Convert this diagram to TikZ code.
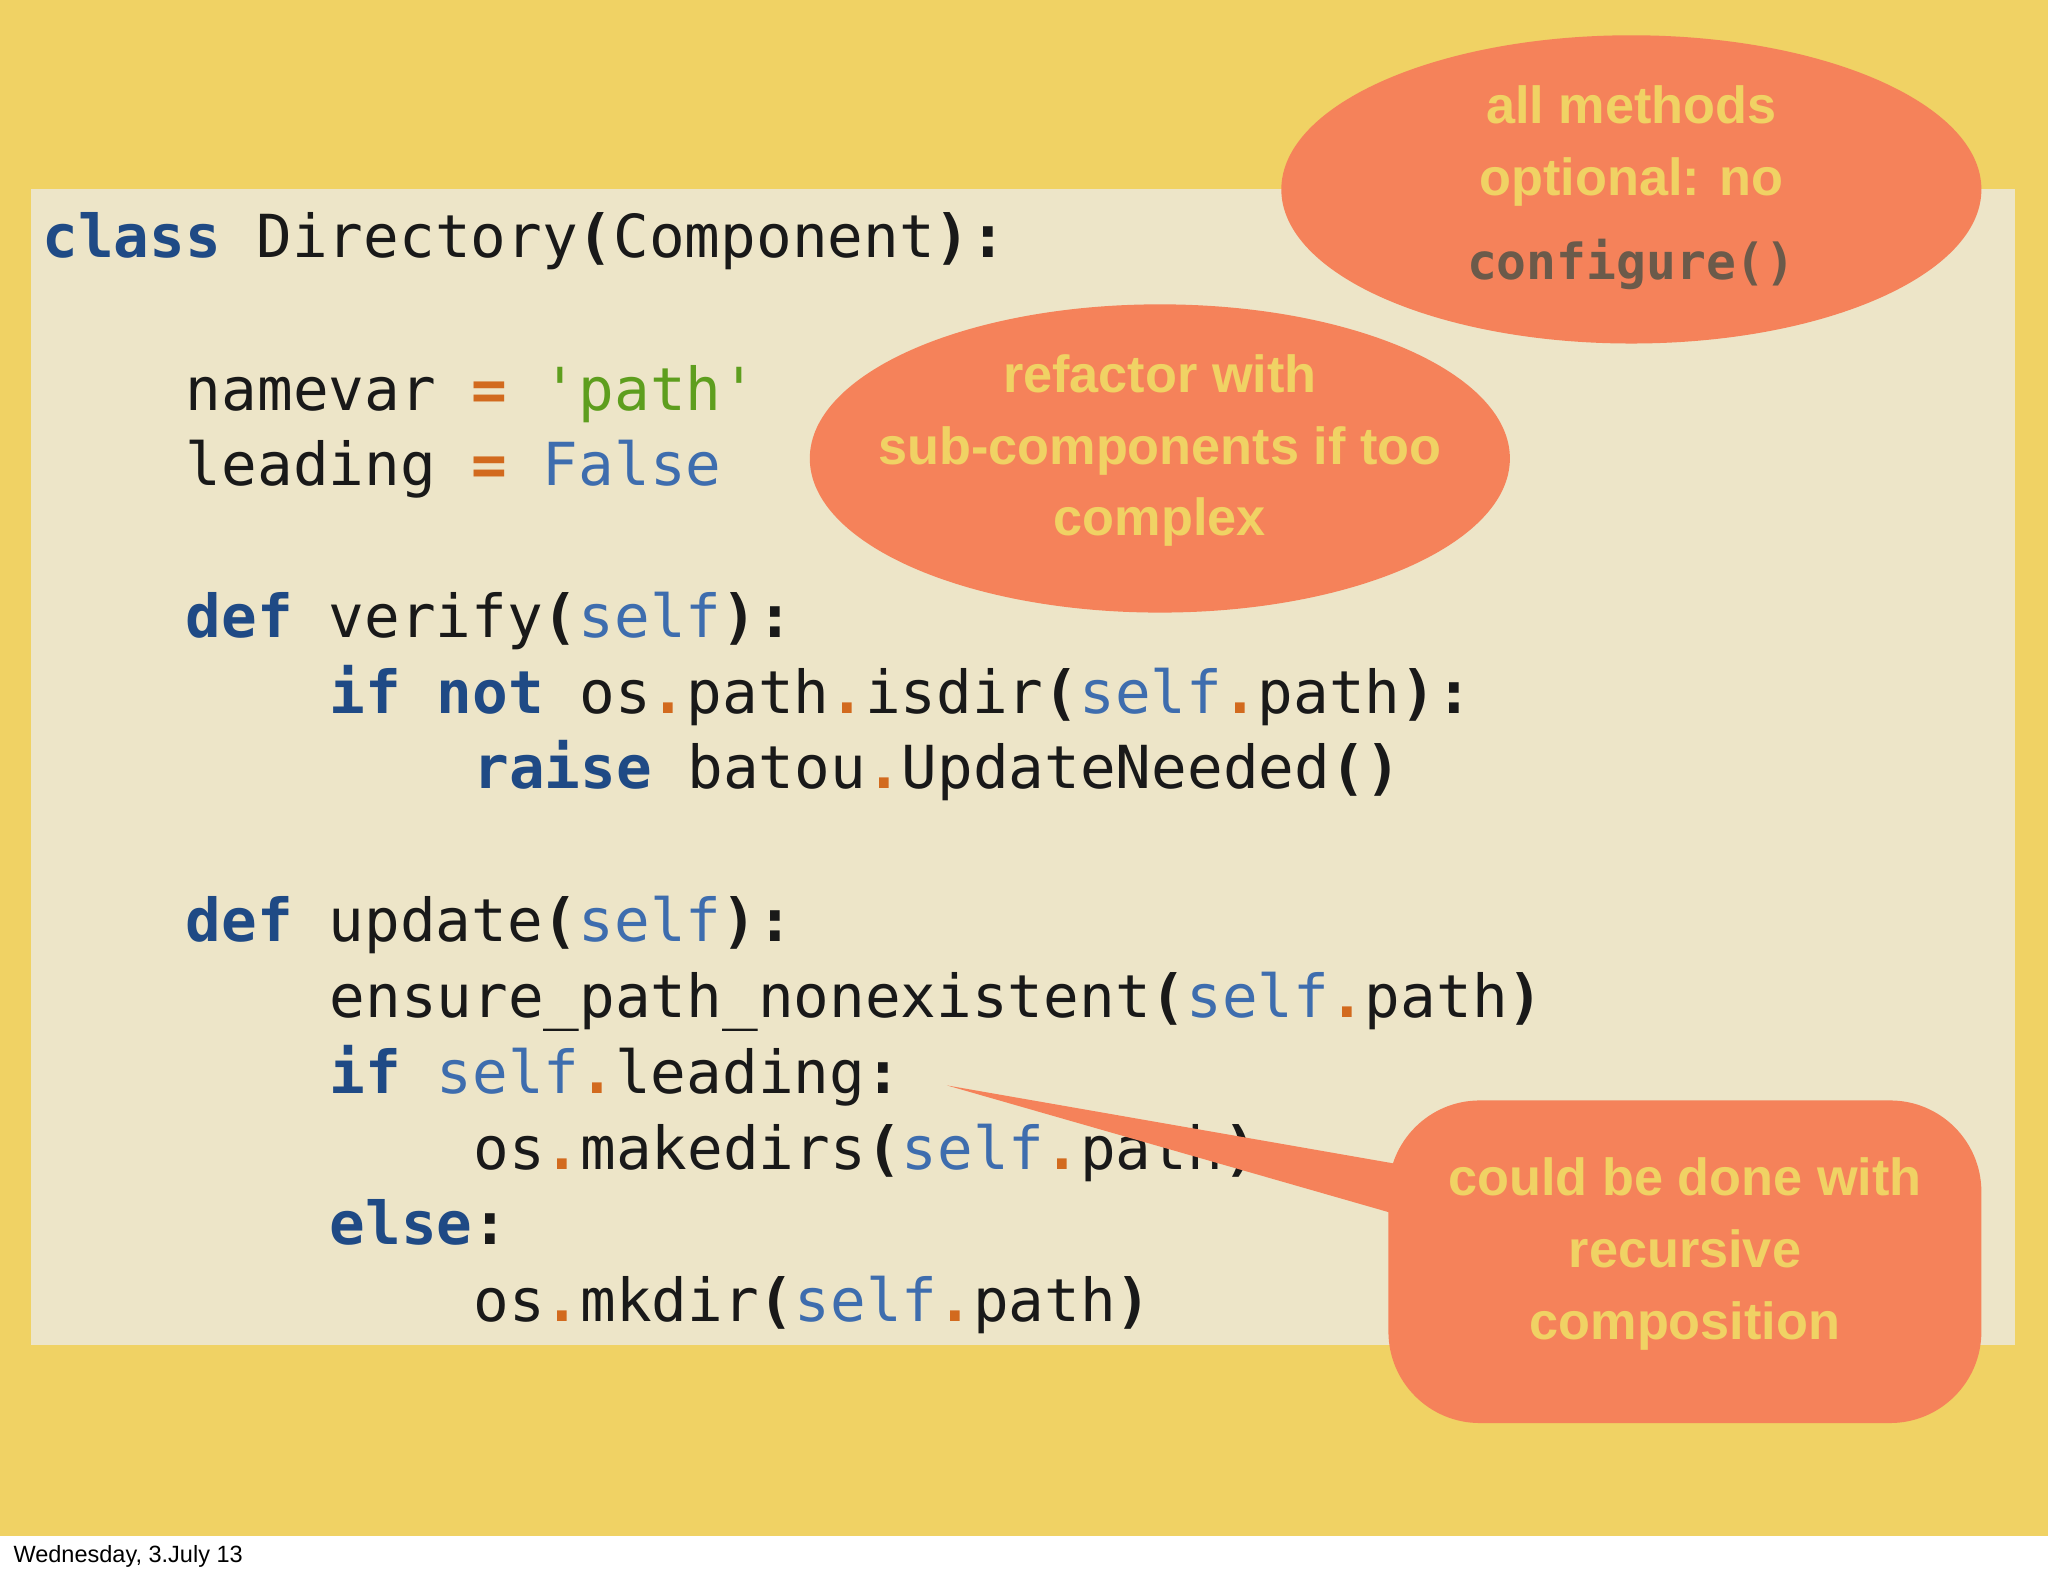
\documentclass[tikz,border=0pt]{standalone}
\usepackage{fontspec}
\setmainfont{Liberation Sans}
\newfontfamily\codefont{DejaVu Sans Mono}[WordSpace={1,0,0}]
\usetikzlibrary{shapes.geometric}
\definecolor{bgyellow}{HTML}{F0D264}
\definecolor{panel}{HTML}{EDE5C8}
\definecolor{salmon}{HTML}{F5825A}
\definecolor{kwc}{HTML}{1F4A85}
\definecolor{selfc}{HTML}{3E6DAE}
\definecolor{opc}{HTML}{D26A1E}
\definecolor{strc}{HTML}{5E9E1E}
\definecolor{cfgc}{HTML}{6B5A4A}
\newcommand{\kw}[1]{\textcolor{kwc}{\bfseries #1}}
\newcommand{\sv}[1]{\textcolor{selfc}{#1}}
\newcommand{\op}[1]{\textcolor{opc}{\bfseries #1}}
\newcommand{\st}[1]{\textcolor{strc}{#1}}
\newcommand{\pp}[1]{{\bfseries #1}}
\begin{document}
\begin{tikzpicture}[x=0.5pt,y=-0.5pt,
  code/.style={anchor=base west,inner sep=0pt,font=\codefont\fontsize{22.7pt}{29pt}\selectfont,text=black!90},
  call/.style={fill=salmon,draw=none},
  ctext/.style={align=center,text=bgyellow,font=\bfseries\fontsize{20pt}{27.5pt}\selectfont}]
\useasboundingbox (0,0) rectangle (1568,1206);
\fill[white] (0,0) rectangle (1568,1206);
\fill[bgyellow] (0,0) rectangle (1568,1176);
\fill[panel] (24,145) rectangle (1543,1030);
\node[anchor=base west,inner sep=0pt,font=\fontsize{9pt}{10pt}\selectfont] (date) at (10,1196) {Wednesday, 3.July 13};
% code
\node[code] (l1) at (32,197) {\kw{class} Directory\pp{(}Component\pp{):}};
\node[code] (l2) at (142,314) {namevar \op{=} \st{'path'}};
\node[code] (l3) at (142,372) {leading \op{=} \sv{False}};
\node[code] (l4) at (142,488) {\kw{def} verify\pp{(}\sv{self}\pp{):}};
\node[code] (l5) at (252,546) {\kw{if} \kw{not} os\op{.}path\op{.}isdir\pp{(}\sv{self}\op{.}path\pp{):}};
\node[code] (l6) at (362,604) {\kw{raise} batou\op{.}UpdateNeeded\pp{()}};
\node[code] (l7) at (142,721) {\kw{def} update\pp{(}\sv{self}\pp{):}};
\node[code] (l8) at (252,779) {ensure\_path\_nonexistent\pp{(}\sv{self}\op{.}path\pp{)}};
\node[code] (l9) at (252,837) {\kw{if} \sv{self}\op{.}leading\pp{:}};
\node[code] (l10) at (362,895) {os\op{.}makedirs\pp{(}\sv{self}\op{.}path\pp{)}};
\node[code] (l11) at (252,953) {\kw{else}\pp{:}};
\node[code] (l12) at (362,1012) {os\op{.}mkdir\pp{(}\sv{self}\op{.}path\pp{)}};
% callouts
\node[call,ellipse,minimum width=268pt,minimum height=118pt,inner sep=0pt] (e1) at (1249,145) {};
\node[ctext] (t1) at (1249,112) {all methods\\optional: no};
\node[anchor=base,inner sep=0pt,text=cfgc,font=\codefont\bfseries\fontsize{19pt}{20pt}\selectfont] (t1b) at (1249,214) {configure()};
\node[call,ellipse,minimum width=268pt,minimum height=118pt,inner sep=0pt] (e2) at (888,351) {};
\node[ctext] (t2) at (888,345) {refactor with\\sub-components if too\\complex};
\coordinate (tip) at (725,831);
\fill[salmon] (tip) -- (1080,893) -- (1070,930) -- cycle;
\node[call,rectangle,rounded corners=35pt,minimum width=227pt,minimum height=123.5pt,inner sep=0pt] (box) at (1290,966) {};
\node[ctext] (t3) at (1290,960) {could be done with\\recursive\\composition};
\end{tikzpicture}
\end{document}
